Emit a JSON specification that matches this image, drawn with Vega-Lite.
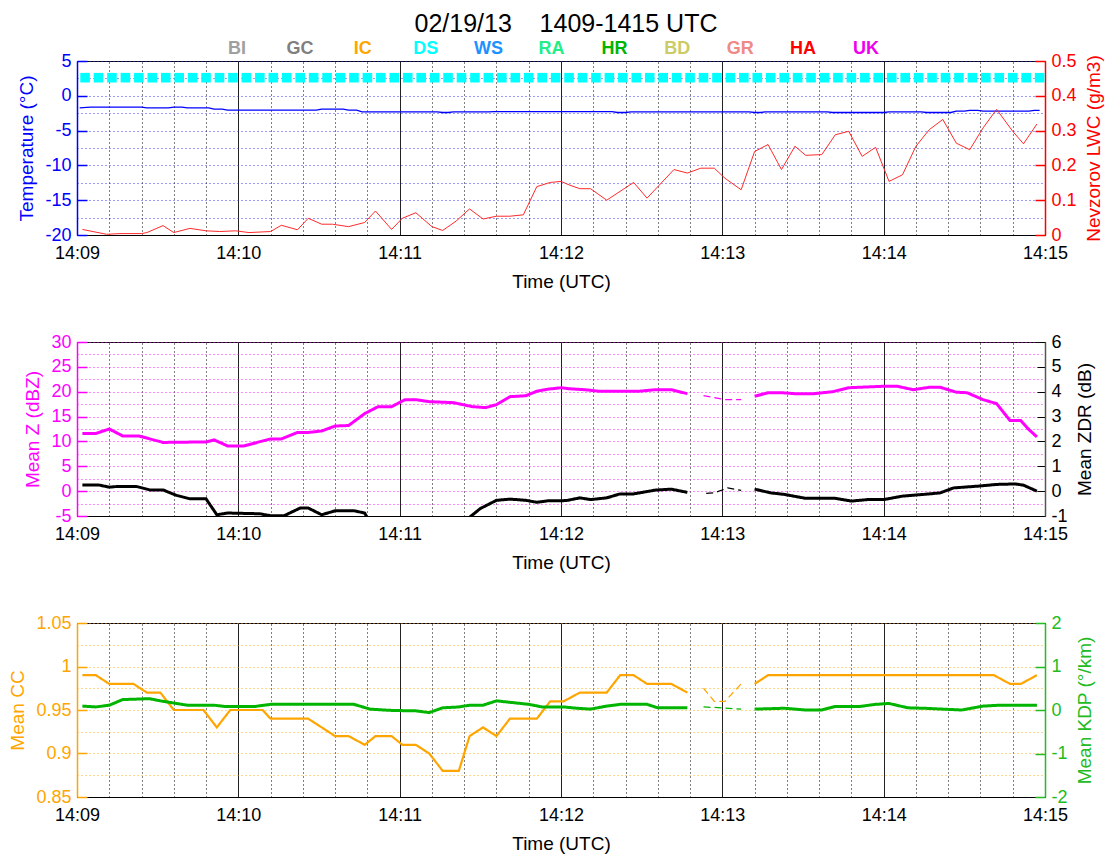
{
"$schema": "https://vega.github.io/schema/vega-lite/v6.json",
"background": "white",
"padding": {"left": 8, "top": 11, "right": 8, "bottom": 5},
"title": {"text": "02/19/13\u00a0\u00a0\u00a0\u00a01409-1415 UTC", "fontSize": 25, "fontWeight": "normal", "color": "black", "anchor": "middle", "offset": 3, "dx": 10},
"spacing": 40,
"datasets": {
"classes": [{"cls":"BI"},{"cls":"GC"},{"cls":"IC"},{"cls":"DS"},{"cls":"WS"},{"cls":"RA"},{"cls":"HR"},{"cls":"BD"},{"cls":"GR"},{"cls":"HA"},{"cls":"UK"}],
"ds": [{"t":"14:09:03","cls":"DS"},{"t":"14:09:08","cls":"DS"},{"t":"14:09:13","cls":"DS"},{"t":"14:09:18","cls":"DS"},{"t":"14:09:23","cls":"DS"},{"t":"14:09:28","cls":"DS"},{"t":"14:09:33","cls":"DS"},{"t":"14:09:38","cls":"DS"},{"t":"14:09:43","cls":"DS"},{"t":"14:09:48","cls":"DS"},{"t":"14:09:53","cls":"DS"},{"t":"14:09:58","cls":"DS"},
{"t":"14:10:03","cls":"DS"},{"t":"14:10:08","cls":"DS"},{"t":"14:10:13","cls":"DS"},{"t":"14:10:18","cls":"DS"},{"t":"14:10:23","cls":"DS"},{"t":"14:10:28","cls":"DS"},{"t":"14:10:33","cls":"DS"},{"t":"14:10:38","cls":"DS"},{"t":"14:10:43","cls":"DS"},{"t":"14:10:48","cls":"DS"},{"t":"14:10:53","cls":"DS"},{"t":"14:10:58","cls":"DS"},
{"t":"14:11:03","cls":"DS"},{"t":"14:11:08","cls":"DS"},{"t":"14:11:13","cls":"DS"},{"t":"14:11:18","cls":"DS"},{"t":"14:11:23","cls":"DS"},{"t":"14:11:28","cls":"DS"},{"t":"14:11:33","cls":"DS"},{"t":"14:11:38","cls":"DS"},{"t":"14:11:43","cls":"DS"},{"t":"14:11:48","cls":"DS"},{"t":"14:11:53","cls":"DS"},{"t":"14:11:58","cls":"DS"},
{"t":"14:12:03","cls":"DS"},{"t":"14:12:08","cls":"DS"},{"t":"14:12:13","cls":"DS"},{"t":"14:12:18","cls":"DS"},{"t":"14:12:23","cls":"DS"},{"t":"14:12:28","cls":"DS"},{"t":"14:12:33","cls":"DS"},{"t":"14:12:38","cls":"DS"},{"t":"14:12:43","cls":"DS"},{"t":"14:12:48","cls":"DS"},{"t":"14:12:53","cls":"DS"},{"t":"14:12:58","cls":"DS"},
{"t":"14:13:03","cls":"DS"},{"t":"14:13:08","cls":"DS"},{"t":"14:13:13","cls":"DS"},{"t":"14:13:18","cls":"DS"},{"t":"14:13:23","cls":"DS"},{"t":"14:13:28","cls":"DS"},{"t":"14:13:33","cls":"DS"},{"t":"14:13:38","cls":"DS"},{"t":"14:13:43","cls":"DS"},{"t":"14:13:48","cls":"DS"},{"t":"14:13:53","cls":"DS"},{"t":"14:13:58","cls":"DS"},
{"t":"14:14:03","cls":"DS"},{"t":"14:14:08","cls":"DS"},{"t":"14:14:13","cls":"DS"},{"t":"14:14:18","cls":"DS"},{"t":"14:14:23","cls":"DS"},{"t":"14:14:28","cls":"DS"},{"t":"14:14:33","cls":"DS"},{"t":"14:14:38","cls":"DS"},{"t":"14:14:43","cls":"DS"},{"t":"14:14:48","cls":"DS"},{"t":"14:14:53","cls":"DS"},{"t":"14:14:58","cls":"DS"}],
"temp": [{"t":"14:09:01","v":-1.73},{"t":"14:09:05","v":-1.63},{"t":"14:09:24","v":-1.63},{"t":"14:09:26","v":-1.73},{"t":"14:09:34","v":-1.73},{"t":"14:09:36","v":-1.63},{"t":"14:09:39","v":-1.63},{"t":"14:09:41","v":-1.73},{"t":"14:09:49","v":-1.73},{"t":"14:09:51","v":-1.92},{"t":"14:09:54","v":-1.92},{"t":"14:09:56","v":-2.07},{"t":"14:10:29","v":-2.07},{"t":"14:10:31","v":-1.92},{"t":"14:10:39","v":-1.92},{"t":"14:10:41","v":-2.07},{"t":"14:10:44","v":-2.07},{"t":"14:10:46","v":-2.31},{"t":"14:11:14","v":-2.31},{"t":"14:11:16","v":-2.4},{"t":"14:11:18","v":-2.4},{"t":"14:11:20","v":-2.31},{"t":"14:11:33","v":-2.31},{"t":"14:11:35","v":-2.26},{"t":"14:12:19","v":-2.26},{"t":"14:12:21","v":-2.4},{"t":"14:12:24","v":-2.4},{"t":"14:12:26","v":-2.31},{"t":"14:13:10","v":-2.31},{"t":"14:13:12","v":-2.4},{"t":"14:13:14","v":-2.4},{"t":"14:13:16","v":-2.31},{"t":"14:13:39","v":-2.31},{"t":"14:13:41","v":-2.4},{"t":"14:14:00","v":-2.4},{"t":"14:14:02","v":-2.31},{"t":"14:14:14","v":-2.31},{"t":"14:14:16","v":-2.4},{"t":"14:14:25","v":-2.4},{"t":"14:14:27","v":-2.2},{"t":"14:14:30","v":-2.2},{"t":"14:14:32","v":-2.1},{"t":"14:14:35","v":-2.1},{"t":"14:14:37","v":-2.2},{"t":"14:14:54","v":-2.2},{"t":"14:14:56","v":-2.1},{"t":"14:14:58","v":-2.1}],
"lwc": [{"t":"14:09:02","v":0.016},{"t":"14:09:11","v":0.002},{"t":"14:09:16","v":0.004},{"t":"14:09:24","v":0.004},{"t":"14:09:26","v":0.007},{"t":"14:09:32","v":0.027},{"t":"14:09:36","v":0.007},{"t":"14:09:42","v":0.019},{"t":"14:09:48","v":0.012},{"t":"14:09:53","v":0.010},{"t":"14:09:59","v":0.012},{"t":"14:10:04","v":0.007},{"t":"14:10:12","v":0.010},{"t":"14:10:16","v":0.028},{"t":"14:10:22","v":0.015},{"t":"14:10:26","v":0.048},{"t":"14:10:31","v":0.031},{"t":"14:10:35","v":0.031},{"t":"14:10:41","v":0.024},{"t":"14:10:47","v":0.036},{"t":"14:10:51","v":0.069},{"t":"14:10:57","v":0.016},{"t":"14:11:01","v":0.048},{"t":"14:11:06","v":0.064},{"t":"14:11:12","v":0.024},{"t":"14:11:16","v":0.013},{"t":"14:11:21","v":0.040},{"t":"14:11:26","v":0.075},{"t":"14:11:31","v":0.046},{"t":"14:11:36","v":0.054},{"t":"14:11:41","v":0.054},{"t":"14:11:46","v":0.058},{"t":"14:11:51","v":0.139},{"t":"14:11:56","v":0.151},{"t":"14:12:00","v":0.154},{"t":"14:12:03","v":0.144},{"t":"14:12:07","v":0.133},{"t":"14:12:11","v":0.133},{"t":"14:12:17","v":0.100},{"t":"14:12:27","v":0.151},{"t":"14:12:32","v":0.106},{"t":"14:12:42","v":0.188},{"t":"14:12:47","v":0.178},{"t":"14:12:52","v":0.192},{"t":"14:12:57","v":0.192},{"t":"14:13:01","v":0.163},{"t":"14:13:07","v":0.130},{"t":"14:13:12","v":0.240},{"t":"14:13:17","v":0.260},{"t":"14:13:22","v":0.188},{"t":"14:13:27","v":0.255},{"t":"14:13:31","v":0.229},{"t":"14:13:37","v":0.231},{"t":"14:13:42","v":0.288},{"t":"14:13:47","v":0.298},{"t":"14:13:52","v":0.226},{"t":"14:13:57","v":0.252},{"t":"14:14:02","v":0.154},{"t":"14:14:07","v":0.173},{"t":"14:14:12","v":0.255},{"t":"14:14:17","v":0.303},{"t":"14:14:22","v":0.332},{"t":"14:14:27","v":0.264},{"t":"14:14:32","v":0.245},{"t":"14:14:37","v":0.308},{"t":"14:14:42","v":0.361},{"t":"14:14:48","v":0.298},{"t":"14:14:52","v":0.262},{"t":"14:14:57","v":0.319}],
"z": [{"t":"14:09:02","v":11.6,"seg":1},{"t":"14:09:07","v":11.6,"seg":1},{"t":"14:09:12","v":12.5,"seg":1},{"t":"14:09:17","v":11.1,"seg":1},{"t":"14:09:23","v":11.1,"seg":1},{"t":"14:09:32","v":9.8,"seg":1},{"t":"14:09:48","v":9.9,"seg":1},{"t":"14:09:51","v":10.3,"seg":1},{"t":"14:09:56","v":9.1,"seg":1},{"t":"14:10:02","v":9.1,"seg":1},{"t":"14:10:12","v":10.5,"seg":1},{"t":"14:10:16","v":10.5,"seg":1},{"t":"14:10:22","v":11.8,"seg":1},{"t":"14:10:26","v":11.8,"seg":1},{"t":"14:10:31","v":12.1,"seg":1},{"t":"14:10:36","v":13.1,"seg":1},{"t":"14:10:41","v":13.2,"seg":1},{"t":"14:10:47","v":15.6,"seg":1},{"t":"14:10:52","v":17.0,"seg":1},{"t":"14:10:57","v":17.0,"seg":1},{"t":"14:11:02","v":18.4,"seg":1},{"t":"14:11:06","v":18.4,"seg":1},{"t":"14:11:11","v":18.0,"seg":1},{"t":"14:11:20","v":17.8,"seg":1},{"t":"14:11:27","v":17.0,"seg":1},{"t":"14:11:32","v":16.8,"seg":1},{"t":"14:11:36","v":17.4,"seg":1},{"t":"14:11:41","v":19.0,"seg":1},{"t":"14:11:47","v":19.2,"seg":1},{"t":"14:11:51","v":20.1,"seg":1},{"t":"14:11:55","v":20.5,"seg":1},{"t":"14:12:00","v":20.8,"seg":1},{"t":"14:12:03","v":20.6,"seg":1},{"t":"14:12:09","v":20.4,"seg":1},{"t":"14:12:14","v":20.1,"seg":1},{"t":"14:12:29","v":20.1,"seg":1},{"t":"14:12:35","v":20.4,"seg":1},{"t":"14:12:41","v":20.4,"seg":1},{"t":"14:12:47","v":19.6,"seg":1},
{"t":"14:12:53","v":19.2,"seg":2},{"t":"14:12:59","v":18.6,"seg":2},{"t":"14:13:01","v":18.4,"seg":2},{"t":"14:13:07","v":18.4,"seg":2},
{"t":"14:13:12","v":19.1,"seg":3},{"t":"14:13:17","v":19.8,"seg":3},{"t":"14:13:22","v":19.8,"seg":3},{"t":"14:13:27","v":19.6,"seg":3},{"t":"14:13:34","v":19.6,"seg":3},{"t":"14:13:41","v":20.0,"seg":3},{"t":"14:13:47","v":20.8,"seg":3},{"t":"14:14:00","v":21.1,"seg":3},{"t":"14:14:05","v":21.1,"seg":3},{"t":"14:14:11","v":20.4,"seg":3},{"t":"14:14:17","v":20.9,"seg":3},{"t":"14:14:21","v":20.9,"seg":3},{"t":"14:14:27","v":19.9,"seg":3},{"t":"14:14:31","v":19.8,"seg":3},{"t":"14:14:37","v":18.4,"seg":3},{"t":"14:14:42","v":17.6,"seg":3},{"t":"14:14:47","v":14.2,"seg":3},{"t":"14:14:51","v":14.2,"seg":3},{"t":"14:14:54","v":12.4,"seg":3},{"t":"14:14:57","v":10.9,"seg":3}],
"zdr": [{"t":"14:09:02","v":0.25,"seg":1},{"t":"14:09:08","v":0.25,"seg":1},{"t":"14:09:12","v":0.16,"seg":1},{"t":"14:09:15","v":0.19,"seg":1},{"t":"14:09:22","v":0.19,"seg":1},{"t":"14:09:27","v":0.05,"seg":1},{"t":"14:09:32","v":0.05,"seg":1},{"t":"14:09:37","v":-0.17,"seg":1},{"t":"14:09:42","v":-0.31,"seg":1},{"t":"14:09:48","v":-0.31,"seg":1},{"t":"14:09:52","v":-0.95,"seg":1},{"t":"14:09:56","v":-0.88,"seg":1},{"t":"14:10:08","v":-0.91,"seg":1},{"t":"14:10:12","v":-0.99,"seg":1},{"t":"14:10:17","v":-0.99,"seg":1},{"t":"14:10:23","v":-0.68,"seg":1},{"t":"14:10:26","v":-0.68,"seg":1},{"t":"14:10:31","v":-0.95,"seg":1},{"t":"14:10:36","v":-0.79,"seg":1},{"t":"14:10:43","v":-0.79,"seg":1},{"t":"14:10:47","v":-0.88,"seg":1},{"t":"14:10:49","v":-1.3,"seg":1},{"t":"14:11:00","v":-1.6,"seg":1},{"t":"14:11:12","v":-1.7,"seg":1},{"t":"14:11:22","v":-1.4,"seg":1},{"t":"14:11:30","v":-0.7,"seg":1},{"t":"14:11:36","v":-0.37,"seg":1},{"t":"14:11:41","v":-0.32,"seg":1},{"t":"14:11:47","v":-0.37,"seg":1},{"t":"14:11:51","v":-0.45,"seg":1},{"t":"14:11:55","v":-0.39,"seg":1},{"t":"14:12:02","v":-0.38,"seg":1},{"t":"14:12:07","v":-0.27,"seg":1},{"t":"14:12:11","v":-0.34,"seg":1},{"t":"14:12:17","v":-0.27,"seg":1},{"t":"14:12:22","v":-0.11,"seg":1},{"t":"14:12:27","v":-0.11,"seg":1},{"t":"14:12:35","v":0.04,"seg":1},{"t":"14:12:41","v":0.08,"seg":1},{"t":"14:12:47","v":-0.05,"seg":1},
{"t":"14:12:54","v":-0.09,"seg":2},{"t":"14:12:57","v":-0.07,"seg":2},{"t":"14:13:02","v":0.13,"seg":2},{"t":"14:13:07","v":0.03,"seg":2},
{"t":"14:13:12","v":0.08,"seg":3},{"t":"14:13:18","v":-0.07,"seg":3},{"t":"14:13:23","v":-0.13,"seg":3},{"t":"14:13:31","v":-0.29,"seg":3},{"t":"14:13:42","v":-0.29,"seg":3},{"t":"14:13:48","v":-0.40,"seg":3},{"t":"14:13:54","v":-0.34,"seg":3},{"t":"14:14:00","v":-0.34,"seg":3},{"t":"14:14:07","v":-0.2,"seg":3},{"t":"14:14:15","v":-0.13,"seg":3},{"t":"14:14:21","v":-0.07,"seg":3},{"t":"14:14:26","v":0.13,"seg":3},{"t":"14:14:35","v":0.2,"seg":3},{"t":"14:14:42","v":0.27,"seg":3},{"t":"14:14:49","v":0.29,"seg":3},{"t":"14:14:52","v":0.24,"seg":3},{"t":"14:14:57","v":0.0,"seg":3}],
"cc": [{"t":"14:09:02","v":0.99,"seg":1},{"t":"14:09:07","v":0.99,"seg":1},{"t":"14:09:12","v":0.98,"seg":1},{"t":"14:09:21","v":0.98,"seg":1},{"t":"14:09:26","v":0.97,"seg":1},{"t":"14:09:31","v":0.97,"seg":1},{"t":"14:09:36","v":0.95,"seg":1},{"t":"14:09:47","v":0.95,"seg":1},{"t":"14:09:52","v":0.93,"seg":1},{"t":"14:09:57","v":0.95,"seg":1},{"t":"14:10:09","v":0.95,"seg":1},{"t":"14:10:12","v":0.94,"seg":1},{"t":"14:10:26","v":0.94,"seg":1},{"t":"14:10:36","v":0.92,"seg":1},{"t":"14:10:41","v":0.92,"seg":1},{"t":"14:10:47","v":0.91,"seg":1},{"t":"14:10:51","v":0.92,"seg":1},{"t":"14:10:57","v":0.92,"seg":1},{"t":"14:11:01","v":0.91,"seg":1},{"t":"14:11:06","v":0.91,"seg":1},{"t":"14:11:11","v":0.90,"seg":1},{"t":"14:11:16","v":0.88,"seg":1},{"t":"14:11:22","v":0.88,"seg":1},{"t":"14:11:26","v":0.92,"seg":1},{"t":"14:11:31","v":0.93,"seg":1},{"t":"14:11:36","v":0.92,"seg":1},{"t":"14:11:41","v":0.94,"seg":1},{"t":"14:11:51","v":0.94,"seg":1},{"t":"14:11:56","v":0.96,"seg":1},{"t":"14:12:01","v":0.96,"seg":1},{"t":"14:12:07","v":0.97,"seg":1},{"t":"14:12:17","v":0.97,"seg":1},{"t":"14:12:22","v":0.99,"seg":1},{"t":"14:12:27","v":0.99,"seg":1},{"t":"14:12:32","v":0.98,"seg":1},{"t":"14:12:41","v":0.98,"seg":1},{"t":"14:12:47","v":0.97,"seg":1},
{"t":"14:12:53","v":0.975,"seg":2},{"t":"14:12:57","v":0.96,"seg":2},{"t":"14:13:01","v":0.96,"seg":2},{"t":"14:13:07","v":0.98,"seg":2},
{"t":"14:13:12","v":0.98,"seg":3},{"t":"14:13:17","v":0.99,"seg":3},{"t":"14:14:41","v":0.99,"seg":3},{"t":"14:14:47","v":0.98,"seg":3},{"t":"14:14:51","v":0.98,"seg":3},{"t":"14:14:57","v":0.99,"seg":3}],
"kdp": [{"t":"14:09:02","v":0.09,"seg":1},{"t":"14:09:07","v":0.07,"seg":1},{"t":"14:09:12","v":0.11,"seg":1},{"t":"14:09:17","v":0.24,"seg":1},{"t":"14:09:27","v":0.26,"seg":1},{"t":"14:09:31","v":0.21,"seg":1},{"t":"14:09:37","v":0.15,"seg":1},{"t":"14:09:41","v":0.11,"seg":1},{"t":"14:09:51","v":0.11,"seg":1},{"t":"14:09:55","v":0.08,"seg":1},{"t":"14:10:06","v":0.08,"seg":1},{"t":"14:10:12","v":0.13,"seg":1},{"t":"14:10:43","v":0.13,"seg":1},{"t":"14:10:49","v":0.02,"seg":1},{"t":"14:10:57","v":-0.01,"seg":1},{"t":"14:11:06","v":-0.02,"seg":1},{"t":"14:11:11","v":-0.06,"seg":1},{"t":"14:11:16","v":0.05,"seg":1},{"t":"14:11:22","v":0.07,"seg":1},{"t":"14:11:26","v":0.11,"seg":1},{"t":"14:11:31","v":0.11,"seg":1},{"t":"14:11:36","v":0.21,"seg":1},{"t":"14:11:42","v":0.17,"seg":1},{"t":"14:11:48","v":0.13,"seg":1},{"t":"14:11:53","v":0.07,"seg":1},{"t":"14:12:01","v":0.07,"seg":1},{"t":"14:12:06","v":0.04,"seg":1},{"t":"14:12:11","v":0.02,"seg":1},{"t":"14:12:17","v":0.09,"seg":1},{"t":"14:12:22","v":0.13,"seg":1},{"t":"14:12:32","v":0.13,"seg":1},{"t":"14:12:36","v":0.05,"seg":1},{"t":"14:12:47","v":0.05,"seg":1},
{"t":"14:12:53","v":0.07,"seg":2},{"t":"14:13:00","v":0.05,"seg":2},{"t":"14:13:07","v":0.02,"seg":2},
{"t":"14:13:12","v":0.02,"seg":3},{"t":"14:13:23","v":0.04,"seg":3},{"t":"14:13:31","v":0.0,"seg":3},{"t":"14:13:37","v":0.0,"seg":3},{"t":"14:13:42","v":0.08,"seg":3},{"t":"14:13:51","v":0.08,"seg":3},{"t":"14:13:57","v":0.13,"seg":3},{"t":"14:14:02","v":0.15,"seg":3},{"t":"14:14:09","v":0.05,"seg":3},{"t":"14:14:15","v":0.04,"seg":3},{"t":"14:14:22","v":0.02,"seg":3},{"t":"14:14:29","v":0.0,"seg":3},{"t":"14:14:37","v":0.09,"seg":3},{"t":"14:14:43","v":0.11,"seg":3},{"t":"14:14:57","v":0.11,"seg":3}]
},
"vconcat": [
{
"width": 968, "height": 174,
"resolve": {"scale": {"x": "independent", "y": "independent"}, "axis": {"x": "independent", "y": "independent"}},
"layer": [
{"data": {"name": "temp", "format": {"parse": {"t": "utc:'%H:%M:%S'"}}},
 "mark": {"type": "line", "color": "#0000FF", "strokeWidth": 1.3},
 "encoding": {
  "x": {"field": "t", "type": "temporal", "scale": {"type": "utc", "domain": [-2208937860000, -2208937500000]},
   "axis": {"orient": "bottom", "title": "Time (UTC)", "format": "%H:%M", "values": [-2208937860000,-2208937800000,-2208937740000,-2208937680000,-2208937620000,-2208937560000,-2208937500000],
    "grid": true, "gridColor": "#222222", "gridWidth": 1, "ticks": false, "labelPadding": 9, "titlePadding": 10, "domainColor": "black", "labelColor": "black", "titleColor": "black"}},
  "y": {"field": "v", "type": "quantitative", "scale": {"domain": [-20, 5], "nice": false, "zero": false},
   "axis": {"orient": "left", "title": "Temperature (°C)", "values": [-20,-17.5,-15,-12.5,-10,-7.5,-5,-2.5,0,2.5,5], "labelExpr": "datum.value % 5 === 0 ? '' + datum.value : ''",
    "labelColor": "#0000FF", "titleColor": "#0000FF", "domainColor": "#0000FF", "domainWidth": 1.5, "ticks": true, "tickSize": -10, "tickWidth": 1.5, "tickColor": "#0000FF",
    "tickOpacity": {"condition": {"test": "datum.value % 5 !== 0", "value": 0}, "value": 1},
    "labelPadding": 16, "titlePadding": 8,
    "grid": true, "gridColor": "#2020FF", "gridDash": [1, 3], "gridOpacity": 0.9}}
 }},
{"data": {"name": "ds", "format": {"parse": {"t": "utc:'%H:%M:%S'"}}},
 "mark": {"type": "point", "shape": "square", "filled": true, "size": 92, "opacity": 1},
 "encoding": {
  "x": {"field": "t", "type": "temporal", "scale": {"type": "utc", "domain": [-2208937860000, -2208937500000]}, "axis": null},
  "y": {"datum": 2.6, "type": "quantitative", "scale": {"domain": [-20, 5], "nice": false, "zero": false}, "axis": null},
  "color": {"field": "cls", "type": "nominal", "scale": {"domain": ["BI","GC","IC","DS","WS","RA","HR","BD","GR","HA","UK"], "range": ["#A0A0A0","#7F7F7F","#FFA500","#00FFFF","#1E90FF","#22EE88","#00B400","#CCCC66","#F08888","#FF0000","#EE00EE"]}, "legend": null}
 }},
{"data": {"name": "lwc", "format": {"parse": {"t": "utc:'%H:%M:%S'"}}},
 "mark": {"type": "line", "color": "#FF2A2A", "strokeWidth": 1},
 "encoding": {
  "x": {"field": "t", "type": "temporal", "scale": {"type": "utc", "domain": [-2208937860000, -2208937500000]},
   "axis": {"orient": "top", "title": null, "labels": false, "domain": false, "ticks": false,
    "values": [-2208937848000,-2208937836000,-2208937824000,-2208937812000,-2208937788000,-2208937776000,-2208937764000,-2208937752000,-2208937728000,-2208937716000,-2208937704000,-2208937692000,-2208937668000,-2208937656000,-2208937644000,-2208937632000,-2208937608000,-2208937596000,-2208937584000,-2208937572000,-2208937548000,-2208937536000,-2208937524000,-2208937512000],
    "grid": true, "gridColor": "black", "gridDash": [1, 3]}},
  "y": {"field": "v", "type": "quantitative", "scale": {"domain": [0, 0.5], "nice": false, "zero": false},
   "axis": {"orient": "right", "title": "Nevzorov LWC (g/m3)", "titleAngle": 270, "titleBaseline": "top", "values": [0,0.1,0.2,0.3,0.4,0.5], "labelExpr": "'' + datum.value",
    "labelColor": "#FF0000", "titleColor": "#FF0000", "domainColor": "#FF0000", "domainWidth": 1.5, "ticks": true, "tickSize": -10, "tickColor": "#FF0000", "tickWidth": 1.5, "labelPadding": 16, "titlePadding": 8, "grid": false}}
 }},
{"data": {"name": "classes"},
 "mark": {"type": "text", "fontSize": 18, "fontWeight": "bold", "baseline": "middle"},
 "encoding": {
  "x": {"field": "cls", "type": "nominal", "sort": null, "scale": {"type": "point", "range": [160, 789], "padding": 0}, "axis": null},
  "y": {"datum": 6.7, "type": "quantitative", "scale": {"domain": [-20, 5], "nice": false, "zero": false}, "axis": null},
  "text": {"field": "cls"},
  "color": {"field": "cls", "type": "nominal", "scale": {"domain": ["BI","GC","IC","DS","WS","RA","HR","BD","GR","HA","UK"], "range": ["#A0A0A0","#7F7F7F","#FFA500","#00FFFF","#1E90FF","#22EE88","#00B400","#CCCC66","#F08888","#FF0000","#EE00EE"]}, "legend": null}
 }}
]
},
{
"width": 968, "height": 174,
"resolve": {"scale": {"y": "independent"}, "axis": {"x": "independent", "y": "independent"}},
"layer": [
{"data": {"name": "z", "format": {"parse": {"t": "utc:'%H:%M:%S'"}}},
 "mark": {"type": "line", "color": "#FF00FF", "clip": true},
 "encoding": {
  "x": {"field": "t", "type": "temporal", "scale": {"type": "utc", "domain": [-2208937860000, -2208937500000]},
   "axis": {"orient": "bottom", "title": "Time (UTC)", "format": "%H:%M", "values": [-2208937860000,-2208937800000,-2208937740000,-2208937680000,-2208937620000,-2208937560000,-2208937500000],
    "grid": true, "gridColor": "#222222", "gridWidth": 1, "ticks": false, "labelPadding": 9, "titlePadding": 10, "domainColor": "black", "labelColor": "black", "titleColor": "black"}},
  "y": {"field": "v", "type": "quantitative", "scale": {"domain": [-5, 30], "nice": false, "zero": false},
   "axis": {"orient": "left", "title": "Mean Z (dBZ)", "values": [-5,-2.5,0,2.5,5,7.5,10,12.5,15,17.5,20,22.5,25,27.5,30], "labelExpr": "datum.value % 5 === 0 ? '' + datum.value : ''",
    "labelColor": "#FF00FF", "titleColor": "#FF00FF", "domainColor": "#FF00FF", "domainWidth": 1.5, "ticks": true, "tickSize": -10, "tickWidth": 1.5, "tickColor": "#FF00FF",
    "tickOpacity": {"condition": {"test": "datum.value % 5 !== 0", "value": 0}, "value": 1},
    "labelPadding": 16, "titlePadding": 8,
    "grid": true, "gridColor": "#FF00FF", "gridDash": [1, 3], "gridOpacity": 0.9}},
  "detail": {"field": "seg", "type": "nominal"},
  "strokeWidth": {"condition": {"test": "datum.seg === 2", "value": 1.2}, "value": 3},
  "strokeDash": {"field": "seg", "type": "nominal", "scale": {"domain": [1, 2, 3], "range": [[1, 0], [7, 4], [1, 0]]}, "legend": null}
 }},
{"data": {"name": "zdr", "format": {"parse": {"t": "utc:'%H:%M:%S'"}}},
 "mark": {"type": "line", "color": "#000000", "clip": true},
 "encoding": {
  "x": {"field": "t", "type": "temporal", "scale": {"type": "utc", "domain": [-2208937860000, -2208937500000]},
   "axis": {"orient": "top", "title": null, "labels": false, "domain": false, "ticks": false,
    "values": [-2208937848000,-2208937836000,-2208937824000,-2208937812000,-2208937788000,-2208937776000,-2208937764000,-2208937752000,-2208937728000,-2208937716000,-2208937704000,-2208937692000,-2208937668000,-2208937656000,-2208937644000,-2208937632000,-2208937608000,-2208937596000,-2208937584000,-2208937572000,-2208937548000,-2208937536000,-2208937524000,-2208937512000],
    "grid": true, "gridColor": "black", "gridDash": [1, 3]}},
  "y": {"field": "v", "type": "quantitative", "scale": {"domain": [-1, 6], "nice": false, "zero": false},
   "axis": {"orient": "right", "title": "Mean ZDR (dB)", "titleAngle": 270, "titleBaseline": "top", "values": [-1,0,1,2,3,4,5,6], "labelExpr": "'' + datum.value",
    "labelColor": "#000000", "titleColor": "#000000", "domainColor": "#555555", "domainWidth": 1.5, "ticks": true, "tickSize": -8, "tickColor": "#000000", "labelPadding": 14, "titlePadding": 8, "grid": false}},
  "detail": {"field": "seg", "type": "nominal"},
  "strokeWidth": {"condition": {"test": "datum.seg === 2", "value": 1.2}, "value": 3},
  "strokeDash": {"field": "seg", "type": "nominal", "scale": {"domain": [1, 2, 3], "range": [[1, 0], [7, 4], [1, 0]]}, "legend": null}
 }}
]
},
{
"width": 968, "height": 174,
"resolve": {"scale": {"y": "independent"}, "axis": {"x": "independent", "y": "independent"}},
"layer": [
{"data": {"name": "cc", "format": {"parse": {"t": "utc:'%H:%M:%S'"}}},
 "mark": {"type": "line", "color": "#FFA500", "clip": true},
 "encoding": {
  "x": {"field": "t", "type": "temporal", "scale": {"type": "utc", "domain": [-2208937860000, -2208937500000]},
   "axis": {"orient": "bottom", "title": "Time (UTC)", "format": "%H:%M", "values": [-2208937860000,-2208937800000,-2208937740000,-2208937680000,-2208937620000,-2208937560000,-2208937500000],
    "grid": true, "gridColor": "#222222", "gridWidth": 1, "ticks": false, "labelPadding": 9, "titlePadding": 10, "domainColor": "black", "labelColor": "black", "titleColor": "black"}},
  "y": {"field": "v", "type": "quantitative", "scale": {"domain": [0.85, 1.05], "nice": false, "zero": false},
   "axis": {"orient": "left", "title": "Mean CC", "values": [0.85,0.875,0.9,0.925,0.95,0.975,1,1.025,1.05], "labelExpr": "round(datum.value * 1000) % 50 === 0 ? '' + datum.value : ''",
    "labelColor": "#FFA500", "titleColor": "#FFA500", "domainColor": "#FFA500", "domainWidth": 1.5, "ticks": true, "tickSize": -10, "tickWidth": 1.5, "tickColor": "#FFA500",
    "tickOpacity": {"condition": {"test": "round(datum.value * 1000) % 50 !== 0", "value": 0}, "value": 1},
    "labelPadding": 16, "titlePadding": 8,
    "grid": true, "gridColor": "#FFA500", "gridDash": [1, 3], "gridOpacity": 0.9}},
  "detail": {"field": "seg", "type": "nominal"},
  "strokeWidth": {"condition": {"test": "datum.seg === 2", "value": 1.2}, "value": 2.2},
  "strokeDash": {"field": "seg", "type": "nominal", "scale": {"domain": [1, 2, 3], "range": [[1, 0], [7, 4], [1, 0]]}, "legend": null}
 }},
{"data": {"name": "kdp", "format": {"parse": {"t": "utc:'%H:%M:%S'"}}},
 "mark": {"type": "line", "color": "#00B400", "clip": true},
 "encoding": {
  "x": {"field": "t", "type": "temporal", "scale": {"type": "utc", "domain": [-2208937860000, -2208937500000]},
   "axis": {"orient": "top", "title": null, "labels": false, "domain": false, "ticks": false,
    "values": [-2208937848000,-2208937836000,-2208937824000,-2208937812000,-2208937788000,-2208937776000,-2208937764000,-2208937752000,-2208937728000,-2208937716000,-2208937704000,-2208937692000,-2208937668000,-2208937656000,-2208937644000,-2208937632000,-2208937608000,-2208937596000,-2208937584000,-2208937572000,-2208937548000,-2208937536000,-2208937524000,-2208937512000],
    "grid": true, "gridColor": "black", "gridDash": [1, 3]}},
  "y": {"field": "v", "type": "quantitative", "scale": {"domain": [-2, 2], "nice": false, "zero": false},
   "axis": {"orient": "right", "title": "Mean KDP (°/km)", "titleAngle": 270, "titleBaseline": "top", "values": [-2,-1,0,1,2], "labelExpr": "'' + datum.value",
    "labelColor": "#22BB22", "titleColor": "#22BB22", "domainColor": "#22BB22", "domainWidth": 1.5, "ticks": true, "tickSize": -10, "tickColor": "#22BB22", "tickWidth": 1.5, "labelPadding": 16, "titlePadding": 8, "grid": false}},
  "detail": {"field": "seg", "type": "nominal"},
  "strokeWidth": {"condition": {"test": "datum.seg === 2", "value": 1.2}, "value": 3},
  "strokeDash": {"field": "seg", "type": "nominal", "scale": {"domain": [1, 2, 3], "range": [[1, 0], [7, 4], [1, 0]]}, "legend": null}
 }}
]
}
],
"config": {
 "font": "Liberation Sans",
 "view": {"stroke": "black", "strokeWidth": 1},
 "axis": {"labelFontSize": 18, "titleFontSize": 19, "titleFontWeight": "normal", "labelFlush": false, "labelOverlap": false, "labelFont": "Liberation Sans", "titleFont": "Liberation Sans"},
 "title": {"font": "Liberation Sans"}
}
}
